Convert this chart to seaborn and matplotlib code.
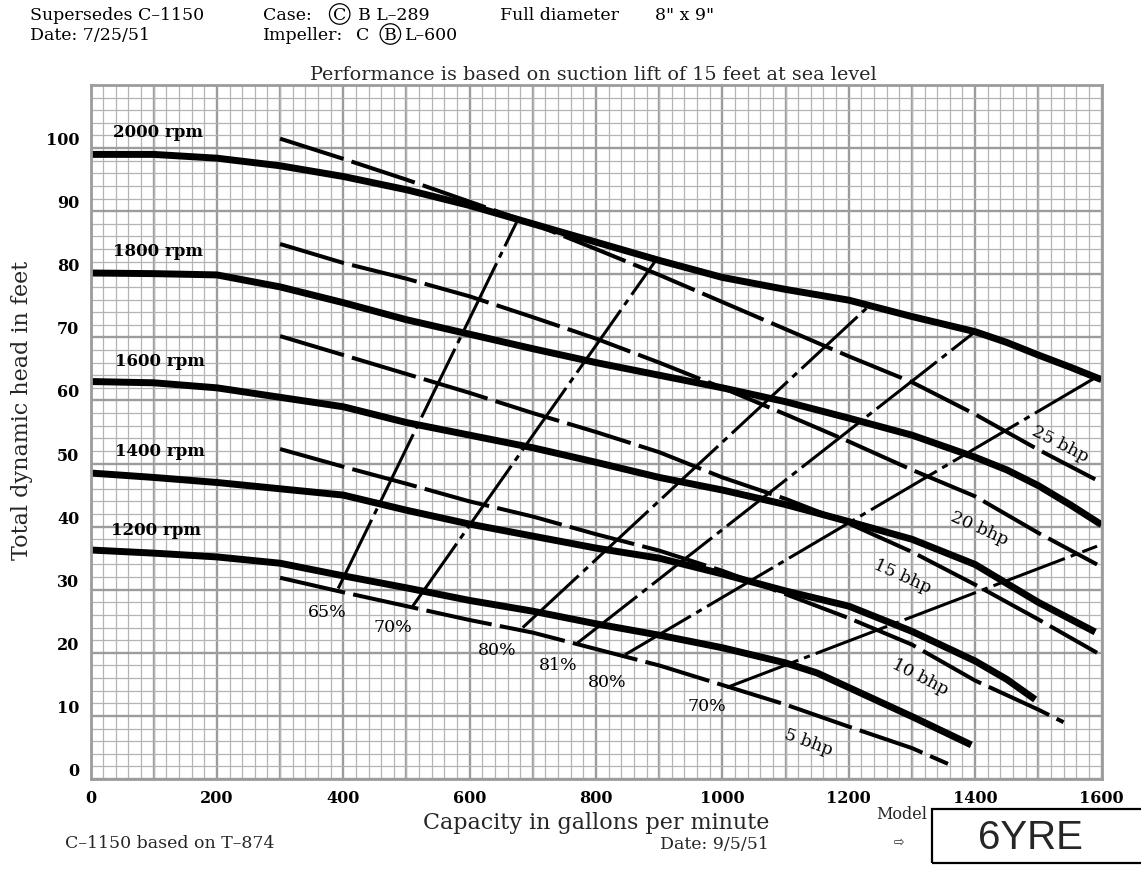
import matplotlib
matplotlib.use("Agg")
import matplotlib.pyplot as plt
import seaborn as sns
from matplotlib.ticker import MultipleLocator
from matplotlib.patches import Rectangle

# ---- head-capacity curves at constant speed (gpm, feet) ----
rpm_labels = ["2000 rpm", "1800 rpm", "1600 rpm", "1400 rpm", "1200 rpm"]

q_2000 = [0, 100, 200, 300, 400, 500, 600, 700, 800, 900, 1000, 1100, 1200, 1300, 1400, 1450, 1500, 1550, 1600]
h_2000 = [99, 99, 98.4, 97.2, 95.5, 93.4, 90.9, 88, 85.1, 82.2, 79.5, 77.6, 75.9, 73.3, 70.9, 69.2, 67.2, 65.3, 63.3]

q_1800 = [0, 100, 200, 300, 400, 500, 600, 700, 800, 900, 1000, 1100, 1200, 1300, 1400, 1450, 1500, 1550, 1600]
h_1800 = [80.2, 80.1, 79.9, 78, 75.5, 72.8, 70.5, 68.2, 66, 64, 62, 59.8, 57.2, 54.5, 51, 49, 46.5, 43.5, 40.3]

q_1600 = [0, 100, 200, 300, 400, 500, 600, 700, 800, 900, 1000, 1100, 1200, 1300, 1400, 1500, 1590]
h_1600 = [63, 62.8, 62, 60.5, 59, 56.5, 54.5, 52.5, 50.2, 47.8, 45.8, 43.5, 40.8, 38, 34, 28, 23.3]

q_1400 = [0, 100, 200, 300, 400, 500, 600, 700, 800, 900, 1000, 1100, 1200, 1300, 1400, 1450, 1495]
h_1400 = [48.5, 47.8, 47, 46, 45, 42.6, 40.4, 38.5, 36.6, 35, 32.5, 29.8, 27.4, 23.4, 18.7, 15.8, 12.6]

q_1200 = [0, 100, 200, 300, 400, 500, 600, 700, 800, 900, 1000, 1100, 1150, 1200, 1300, 1394]
h_1200 = [36.3, 35.8, 35.2, 34.2, 32.2, 30.3, 28.3, 26.6, 24.6, 22.8, 20.8, 18.4, 16.8, 14.5, 9.9, 5.4]

# ---- brake horsepower lines ----
bhp_labels = ["25 bhp", "20 bhp", "15 bhp", "10 bhp", "5 bhp"]

q_25 = [300, 400, 500, 600, 700, 800, 900, 1000, 1100, 1200, 1300, 1400, 1500, 1590]
h_25 = [101.5, 98.3, 95, 91.5, 88, 84, 79.9, 75.6, 71.3, 67, 62.9, 57.8, 52.2, 47.5]

q_20 = [300, 400, 500, 600, 700, 800, 900, 1000, 1100, 1200, 1300, 1400, 1500, 1593]
h_20 = [84.8, 81.8, 79.3, 76.5, 73.2, 69.8, 66, 62, 57.8, 53.5, 49, 44.8, 39, 34]

q_15 = [300, 400, 500, 600, 700, 800, 900, 1000, 1100, 1200, 1300, 1400, 1500, 1593]
h_15 = [70.2, 67.2, 64.2, 61.2, 58, 55, 51.8, 47.8, 44.4, 40.5, 36, 30.8, 25.3, 20]

q_10 = [300, 400, 500, 600, 700, 800, 900, 1000, 1100, 1200, 1300, 1400, 1500, 1540]
h_10 = [52.3, 49.5, 46.8, 44, 41.6, 38.8, 36.2, 33, 29.3, 25.5, 21.3, 15.6, 11, 9]

q_5 = [300, 400, 500, 600, 700, 800, 900, 1000, 1100, 1200, 1300, 1357]
h_5 = [31.9, 29.6, 27.4, 25.2, 23.2, 20.6, 18, 14.9, 11.8, 8.3, 4.9, 2.4]

# ---- iso-efficiency lines (lower end on 5 bhp line, upper end) ----
eff_labels = ["65%", "70%", "80%", "81%", "80%", "70%"]
eff_q_low = [392, 510, 684, 770, 846, 1007]
eff_h_low = [30.2, 27.4, 24.0, 21.5, 19.7, 14.5]
eff_q_high = [676, 896, 1228, 1400, 1590, 1593]
eff_h_high = [88.6, 82.4, 74.6, 70.9, 63.6, 36.9]

x_ticks = [0, 200, 400, 600, 800, 1000, 1200, 1400, 1600]
y_ticks = [0, 10, 20, 30, 40, 50, 60, 70, 80, 90, 100]

rpm_curves = [(q_2000, h_2000), (q_1800, h_1800), (q_1600, h_1600), (q_1400, h_1400), (q_1200, h_1200)]
bhp_curves = [(q_25, h_25), (q_20, h_20), (q_15, h_15), (q_10, h_10), (q_5, h_5)]

# label placement (gpm, ft) and text angles
rpm_label_pos = [(36, 102.7), (36, 83.8), (39, 66.3), (39, 52.0), (32, 39.5)]
bhp_label_pos = [(1534, 53.2, -27), (1406, 39.9, -24), (1285, 32.2, -24), (1313, 16.3, -27), (1136, 5.9, -20)]
eff_label_pos = [(374, 26.5), (479, 24.2), (643, 20.6), (740, 18.2), (817, 15.5), (975, 11.6)]

sns.set_theme(style="white")
plt.rcParams["font.family"] = ["DejaVu Serif", "DejaVu Sans"]
plt.rcParams["lines.scale_dashes"] = False

W, H = 1141, 870
fig = plt.figure(figsize=(W / 100, H / 100), dpi=100)
ax = fig.add_axes([90.5 / W, 1 - 780 / H, 1011 / W, 694 / H])

# graph-paper grid: heavy every 100 gpm / 10 ft, light every 20 gpm / 2 ft
ax.set_xlim(0, 1600)
ax.set_ylim(0, 110)
ax.xaxis.set_minor_locator(MultipleLocator(20))
ax.yaxis.set_minor_locator(MultipleLocator(2))
ax.set_xticks(x_ticks)
ax.set_xticklabels([str(v) for v in x_ticks])
ax.set_yticks(y_ticks)
ax.set_yticklabels([str(v) for v in y_ticks])
ax.grid(which="major", color="#9c9c9c", linewidth=1.7)
ax.grid(which="minor", color="#b4b4b4", linewidth=0.9)
for xv in range(100, 1600, 200):
    ax.axvline(xv, color="#9c9c9c", linewidth=1.7, zorder=0.5)
ax.set_axisbelow(True)
for sp in ax.spines.values():
    sp.set_color("#9c9c9c")
    sp.set_linewidth(2.0)

# pump curves
for q, h in rpm_curves:
    sns.lineplot(x=q, y=h, ax=ax, color="black", linewidth=5.0, estimator=None,
                 solid_joinstyle="round", solid_capstyle="butt")

for q, h in bhp_curves:
    sns.lineplot(x=q, y=h, ax=ax, color="black", linewidth=2.9, estimator=None,
                 linestyle=(0, (48, 6)), dash_capstyle="butt")

for ql, hl, qh, hh in zip(eff_q_low, eff_h_low, eff_q_high, eff_h_high):
    sns.lineplot(x=[ql, qh], y=[hl, hh], ax=ax, color="black", linewidth=2.2, estimator=None,
                 linestyle=(0, (55, 4.5, 4.5, 4.5)), dash_capstyle="butt")

# curve labels
for lab, (x, y) in zip(rpm_labels, rpm_label_pos):
    ax.text(x, y, lab, fontsize=12, fontweight="bold", ha="left", va="center", color="black")
for lab, (x, y, rot) in zip(bhp_labels, bhp_label_pos):
    ax.text(x, y, lab, fontsize=12.5, ha="center", va="center", rotation=rot,
            rotation_mode="anchor", color="black")
for lab, (x, y) in zip(eff_labels, eff_label_pos):
    ax.text(x, y, lab, fontsize=12.5, ha="center", va="center", color="black")

# tick labels
ax.tick_params(axis="both", which="both", length=0, labelsize=11.5, colors="black")
ax.tick_params(axis="x", pad=7)
ax.tick_params(axis="y", pad=8)
for lbl in ax.get_xticklabels() + ax.get_yticklabels():
    lbl.set_fontweight("bold")
for lbl in ax.get_yticklabels():
    lbl.set_va("bottom")
ax.set_xlabel("")
ax.set_ylabel("")


def ftext(px, py, s, **kw):
    fig.text(px / W, 1 - py / H, s, **kw)


# axis titles
ftext(596, 823, "Capacity in gallons per minute", fontsize=16, ha="center", va="center")
ftext(22, 410, "Total dynamic head in feet", fontsize=16, ha="center", va="center", rotation=90)

# header
hdr = dict(fontsize=12.5, va="center", ha="left", color="black")
ring = dict(boxstyle="circle,pad=0.1", fc="none", ec="black", lw=0.9)
ftext(30, 15, "Supersedes C\u20131150", **hdr)
ftext(30, 35, "Date: 7/25/51", **hdr)
ftext(263, 15, "Case:", **hdr)
ftext(333, 15, "C", bbox=ring, **hdr)
ftext(358, 15, "B L\u2013289", **hdr)
ftext(263, 35, "Impeller:", **hdr)
ftext(356, 35, "C", **hdr)
ftext(384, 35, "B", bbox=ring, **hdr)
ftext(405, 35, "L\u2013600", **hdr)
ftext(500, 15, "Full diameter", **hdr)
ftext(655, 15, "8\" x 9\"", **hdr)
ftext(593, 75, "Performance is based on suction lift of 15 feet at sea level",
      fontsize=13.8, ha="center", va="center")

# footer
ftext(65, 844, "C\u20131150 based on T\u2013874", fontsize=12.5, ha="left", va="center")
ftext(660, 845, "Date: 9/5/51", fontsize=12.5, ha="left", va="center")
ftext(902, 815, "Model", fontsize=11.5, ha="center", va="center")
ftext(899, 842, "\u21e8", fontsize=9, ha="center", va="center", family="DejaVu Sans")
fig.patches.append(Rectangle((932 / W, 1 - 864 / H), 230 / W, 54 / H, transform=fig.transFigure,
                             fill=False, edgecolor="black", linewidth=1.6))
ftext(1030, 838, "6YRE", fontsize=29, ha="center", va="center", family="Liberation Sans")

fig.savefig("out.png", dpi=100, facecolor="white")
